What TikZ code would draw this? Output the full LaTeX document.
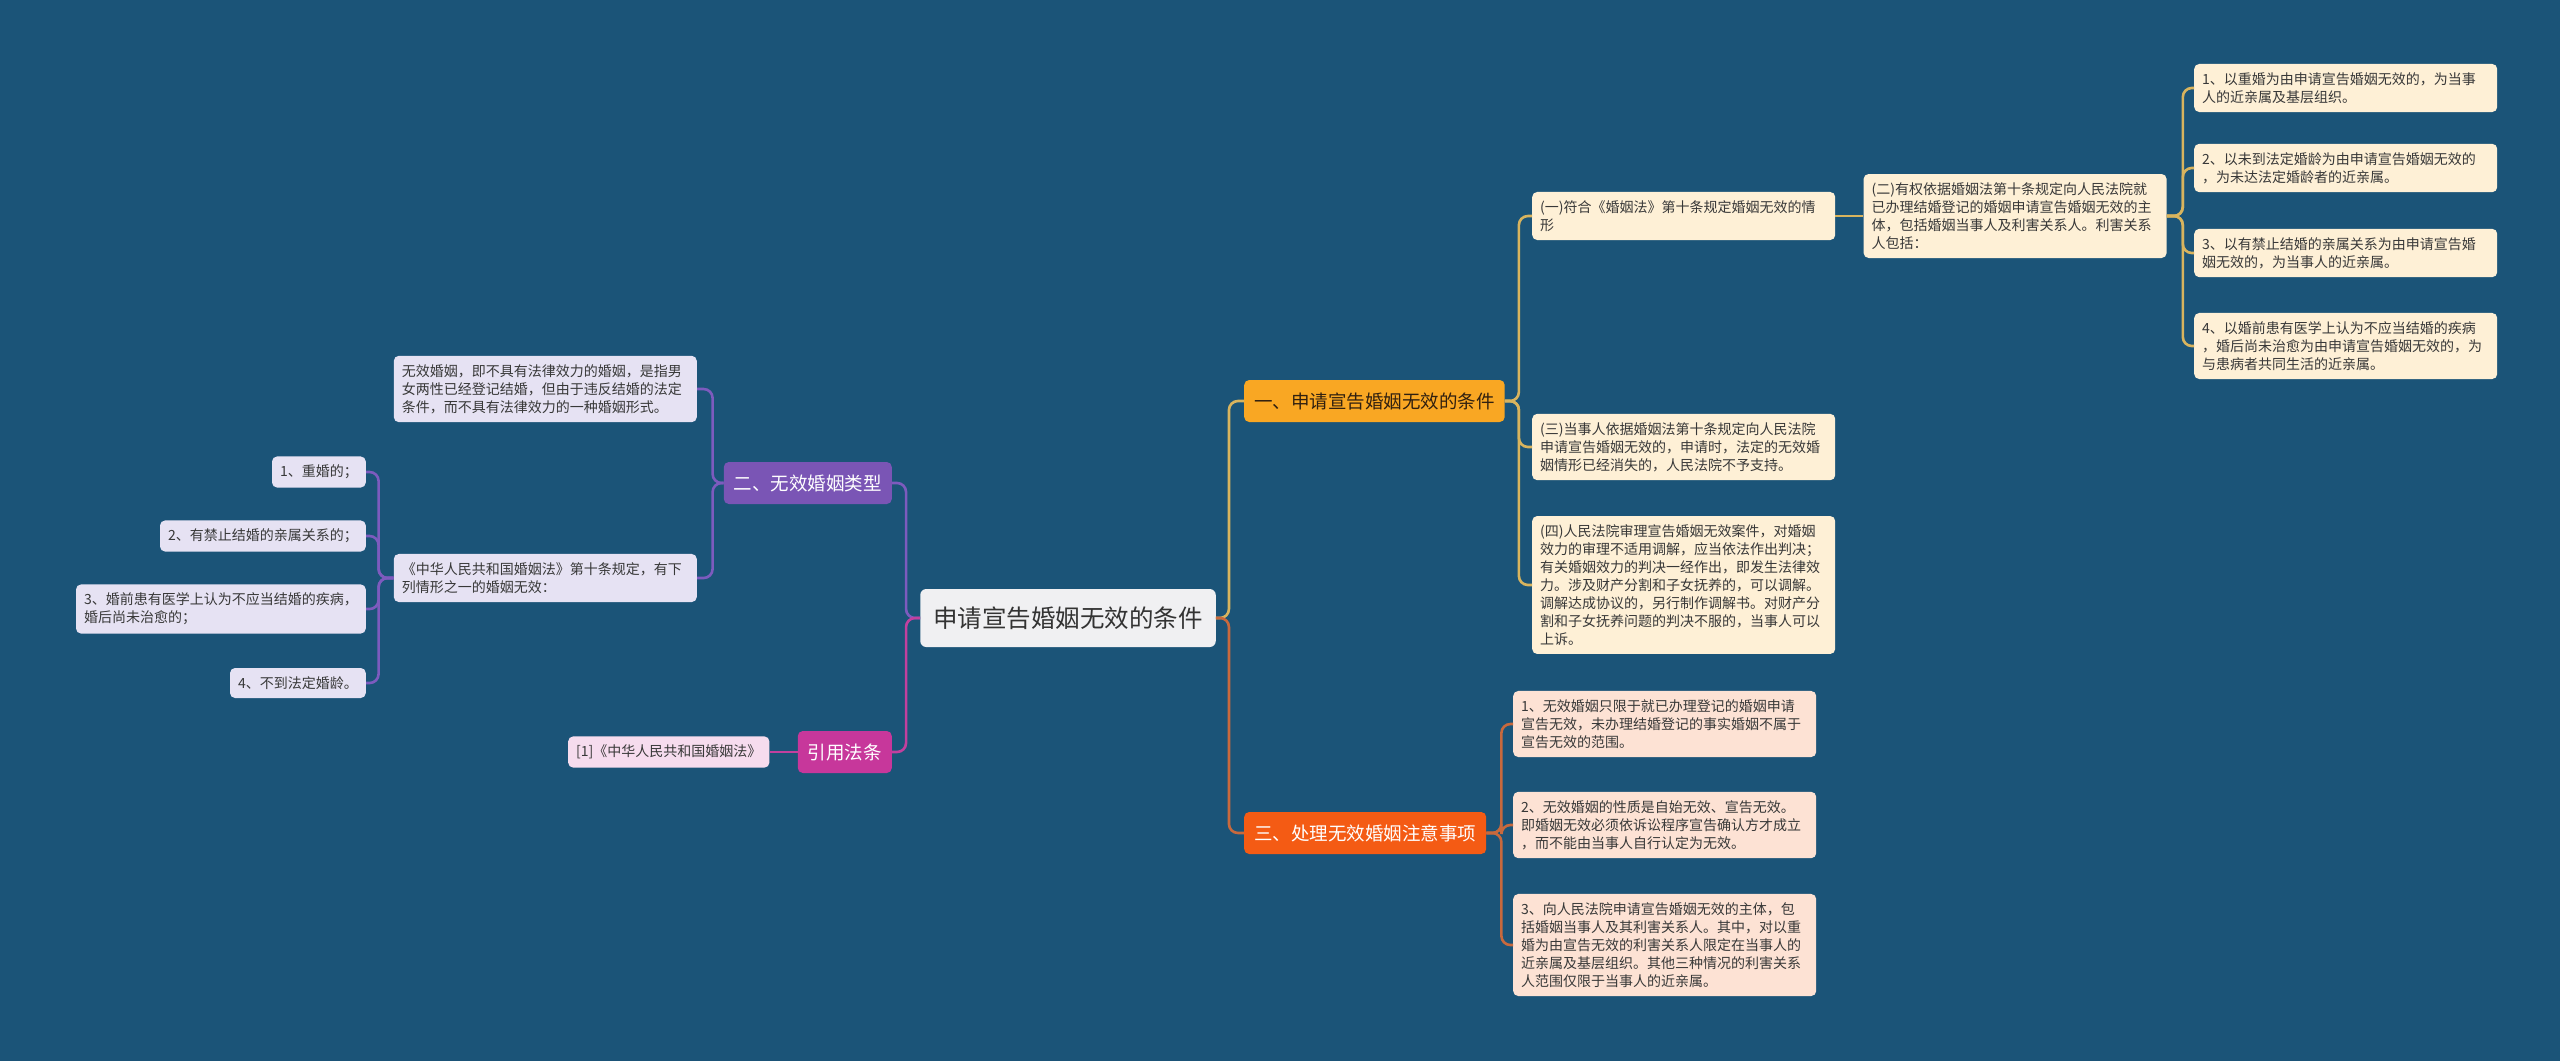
\documentclass[tikz,border=0pt]{standalone}
\usepackage{fontspec}
\setmainfont{Noto Sans CJK SC}
\usepackage{tikz}
\usetikzlibrary{positioning}
\definecolor{hintergrund}{HTML}{1B5478}
\definecolor{hubfill}{HTML}{F0F0F2}
\definecolor{goldfill}{HTML}{F9A723}
\definecolor{goldleaf}{HTML}{FEF0D6}
\definecolor{goldline}{HTML}{D8B45E}
\definecolor{rustfill}{HTML}{F45B14}
\definecolor{rustleaf}{HTML}{FDE2D4}
\definecolor{rustline}{HTML}{C8693D}
\definecolor{lilafill}{HTML}{7A55B5}
\definecolor{lilaleaf}{HTML}{E6E2F3}
\definecolor{lilaline}{HTML}{7D5BBE}
\definecolor{pinkfill}{HTML}{C7379B}
\definecolor{pinkleaf}{HTML}{F6DCEE}
\definecolor{pinkline}{HTML}{C2409E}
\tikzset{
  hub/.style={rectangle, rounded corners=6pt, fill=hubfill, text=black!80, font=\fontsize{24.5}{29}\selectfont, inner xsep=13pt, minimum height=58pt},
  branch/.style={rectangle, rounded corners=5pt, font=\fontsize{18.5}{22}\selectfont, inner xsep=10pt, minimum height=42pt},
  leaf/.style={rectangle, rounded corners=5pt, font=\fontsize{14}{18}\selectfont, inner xsep=8pt, inner ysep=8.5pt, align=left, text=black!78},
  leafwide/.style={leaf, text width=287pt},
  link/.style={line width=2.6pt, rounded corners=9pt}
}

\begin{document}
\begin{tikzpicture}[x=1pt, y=-1pt]
\fill[hintergrund] (0,0) rectangle (2560,1061);
\useasboundingbox (0,0) rectangle (2560,1061);

\node[hub] (thema) at (1068,618) {申请宣告婚姻无效的条件};

% rechte Seite
\node[branch, fill=goldfill, text=black!75!brown, anchor=west] (bedingung) at (1244,401) {一、申请宣告婚姻无效的条件};
\node[branch, fill=rustfill, text=white, anchor=west] (hinweis) at (1244,833) {三、处理无效婚姻注意事项};

\node[leafwide, fill=goldleaf, anchor=west] (art1) at (1532,216) {(一)符合《婚姻法》第十条规定婚姻无效的情\\形};
\node[leafwide, fill=goldleaf, right=28pt of art1] (art2) {(二)有权依据婚姻法第十条规定向人民法院就\\已办理结婚登记的婚姻申请宣告婚姻无效的主\\体，包括婚姻当事人及利害关系人。利害关系\\人包括：};
\node[leafwide, fill=goldleaf, anchor=west] (art3) at (1532,447) {(三)当事人依据婚姻法第十条规定向人民法院\\申请宣告婚姻无效的，申请时，法定的无效婚\\姻情形已经消失的，人民法院不予支持。};
\node[leafwide, fill=goldleaf, anchor=west] (art4) at (1532,585) {(四)人民法院审理宣告婚姻无效案件，对婚姻\\效力的审理不适用调解，应当依法作出判决；\\有关婚姻效力的判决一经作出，即发生法律效\\力。涉及财产分割和子女抚养的，可以调解。\\调解达成协议的，另行制作调解书。对财产分\\割和子女抚养问题的判决不服的，当事人可以\\上诉。};

\node[leafwide, fill=goldleaf, anchor=west] (ant1) at (2194,88) {1、以重婚为由申请宣告婚姻无效的，为当事\\人的近亲属及基层组织。};
\node[leafwide, fill=goldleaf, anchor=west] (ant2) at (2194,168) {2、以未到法定婚龄为由申请宣告婚姻无效的\\，为未达法定婚龄者的近亲属。};
\node[leafwide, fill=goldleaf, anchor=west] (ant3) at (2194,253) {3、以有禁止结婚的亲属关系为由申请宣告婚\\姻无效的，为当事人的近亲属。};
\node[leafwide, fill=goldleaf, anchor=west] (ant4) at (2194,346) {4、以婚前患有医学上认为不应当结婚的疾病\\，婚后尚未治愈为由申请宣告婚姻无效的，为\\与患病者共同生活的近亲属。};

\node[leafwide, fill=rustleaf, anchor=west] (hw1) at (1513,724) {1、无效婚姻只限于就已办理登记的婚姻申请\\宣告无效，未办理结婚登记的事实婚姻不属于\\宣告无效的范围。};
\node[leafwide, fill=rustleaf, anchor=west] (hw2) at (1513,825) {2、无效婚姻的性质是自始无效、宣告无效。\\即婚姻无效必须依诉讼程序宣告确认方才成立\\，而不能由当事人自行认定为无效。};
\node[leafwide, fill=rustleaf, anchor=west] (hw3) at (1513,945) {3、向人民法院申请宣告婚姻无效的主体，包\\括婚姻当事人及其利害关系人。其中，对以重\\婚为由宣告无效的利害关系人限定在当事人的\\近亲属及基层组织。其他三种情况的利害关系\\人范围仅限于当事人的近亲属。};

% linke Seite
\node[branch, fill=lilafill, text=white, anchor=east] (typen) at (892,483) {二、无效婚姻类型};
\node[branch, fill=pinkfill, text=white, anchor=east] (zitat) at (892,752) {引用法条};

\node[leafwide, fill=lilaleaf, anchor=east] (def) at (697,389) {无效婚姻，即不具有法律效力的婚姻，是指男\\女两性已经登记结婚，但由于违反结婚的法定\\条件，而不具有法律效力的一种婚姻形式。};
\node[leafwide, fill=lilaleaf, anchor=east] (para) at (697,578) {《中华人民共和国婚姻法》第十条规定，有下\\列情形之一的婚姻无效：};
\node[leaf, fill=lilaleaf, anchor=east] (fall1) at (366,472) {1、重婚的；};
\node[leaf, fill=lilaleaf, anchor=east] (fall2) at (366,536) {2、有禁止结婚的亲属关系的；};
\node[leaf, fill=lilaleaf, anchor=east] (fall3) at (366,609) {3、婚前患有医学上认为不应当结婚的疾病，\\婚后尚未治愈的；};
\node[leaf, fill=lilaleaf, anchor=east] (fall4) at (366,683) {4、不到法定婚龄。};

\node[leaf, fill=pinkleaf, left=28pt of zitat] (gesetz) {[1]《中华人民共和国婚姻法》};

% Kanten
\draw[link, goldline] (thema.east) -- ++(13,0) |- (bedingung.west);
\draw[link, rustline] (thema.east) -- ++(13,0) |- (hinweis.west);
\draw[link, lilaline] (thema.west) -- ++(-14,0) |- (typen.east);
\draw[link, pinkline] (thema.west) -- ++(-14,0) |- (zitat.east);

\draw[link, goldline] (bedingung.east) -- ++(14,0) |- (art1.west);
\draw[link, goldline] (bedingung.east) -- ++(14,0) |- (art3.west);
\draw[link, goldline] (bedingung.east) -- ++(14,0) |- (art4.west);
\draw[link, goldline] (art1.east) -- (art2.west);
\draw[link, goldline] (art2.east) -- ++(16,0) |- (ant1.west);
\draw[link, goldline] (art2.east) -- ++(16,0) |- (ant2.west);
\draw[link, goldline] (art2.east) -- ++(16,0) |- (ant3.west);
\draw[link, goldline] (art2.east) -- ++(16,0) |- (ant4.west);

\draw[link, rustline] (hinweis.east) -- ++(15,0) |- (hw1.west);
\draw[link, rustline] (hinweis.east) -- ++(15,0) |- (hw2.west);
\draw[link, rustline] (hinweis.east) -- ++(15,0) |- (hw3.west);

\draw[link, lilaline] (typen.west) -- ++(-11,0) |- (def.east);
\draw[link, lilaline] (typen.west) -- ++(-11,0) |- (para.east);
\draw[link, lilaline] (para.west) -- ++(-15,0) |- (fall1.east);
\draw[link, lilaline] (para.west) -- ++(-15,0) |- (fall2.east);
\draw[link, lilaline] (para.west) -- ++(-15,0) |- (fall3.east);
\draw[link, lilaline] (para.west) -- ++(-15,0) |- (fall4.east);

\draw[link, pinkline] (zitat.west) -- (gesetz.east);

\end{tikzpicture}
\end{document}
